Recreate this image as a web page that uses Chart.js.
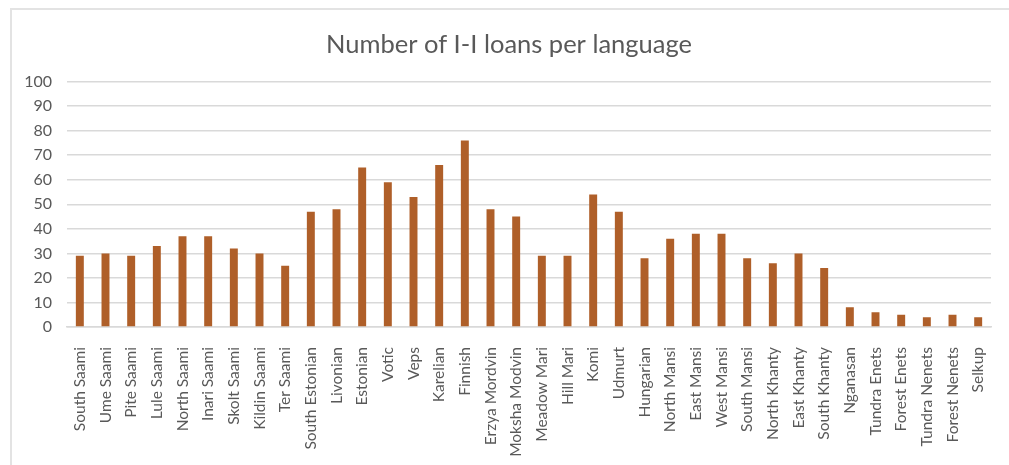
<!DOCTYPE html>
<html>
<head>
<meta charset="utf-8">
<script src="https://cdn.jsdelivr.net/npm/chart.js@4/dist/chart.umd.min.js"></script>
<style>
	html, body { margin: 0; padding: 0; background: #ffffff; }
	#frame {
		position: absolute; left: 10px; top: 8px; right: 0; bottom: 0;
		border-top: 2px solid #e3e3e3; border-left: 2px solid #e3e3e3;
	}
	#wrap { position: absolute; left: 0; top: 0; width: 1009px; height: 465px; }
</style>
</head>
<body>
<div id="frame"></div>
<div id="wrap"><canvas id="loanChart" width="1009" height="465"></canvas></div>
<script>
const	languages	= [
	"South Saami", "Ume Saami", "Pite Saami", "Lule Saami", "North Saami", "Inari Saami",
	"Skolt Saami", "Kildin Saami", "Ter Saami", "South Estonian", "Livonian", "Estonian",
	"Votic", "Veps", "Karelian", "Finnish", "Erzya Mordvin", "Moksha Modvin",
	"Meadow Mari", "Hill Mari", "Komi", "Udmurt", "Hungarian", "North Mansi",
	"East Mansi", "West Mansi", "South Mansi", "North Khanty", "East Khanty", "South Khanty",
	"Nganasan", "Tundra Enets", "Forest Enets", "Tundra Nenets", "Forest Nenets", "Selkup"
];
const	loans	= [
	29, 30, 29, 33, 37, 37,
	32, 30, 25, 47, 48, 65,
	59, 53, 66, 76, 48, 45,
	29, 29, 54, 47, 28, 36,
	38, 38, 28, 26, 30, 24,
	8, 6, 5, 4, 5, 4
];
const	yTicks	= [ 0, 10, 20, 30, 40, 50, 60, 70, 80, 90, 100 ];

const	TEXT_COLOR	= "#595959";
const	GRID_COLOR	= "#d9d9d9";
const	BAR_COLOR	= "#af5f29";

window.addEventListener( 'load', function () {
	let	ctx	= document.getElementById( "loanChart" );

	new Chart( ctx, {
		type: 'bar',
		data: {
			labels: languages,
			datasets: [
				{
					label: 'I-I loans',
					data: loans,
					backgroundColor: BAR_COLOR,
					borderWidth: 0,
					barPercentage: 0.31,
					categoryPercentage: 1.0,
				},
			],
		},
		options: {
			responsive: false,
			animation: false,
			layout: {
				padding: { left: 25, right: 16, top: 29, bottom: 8 },
			},
			plugins: {
				legend: { display: false },
				tooltip: { enabled: false },
				title: {
					display: true,
					text: 'Number of I-I loans per language',
					color: TEXT_COLOR,
					font: { family: 'Lato', size: 25.5, weight: 'normal' },
					padding: { top: 0, bottom: 22 },
				},
			},
			scales: {
				y: {
					min: 0,
					max: 100,
					afterBuildTicks: axis => {
						axis.ticks = yTicks.map( v => ({ value: v }) );
					},
					afterFit: axis => { axis.width = 42; },	//	label column + gap
					border: { display: false },
					grid: {
						color: GRID_COLOR,
						lineWidth: 1.5,
						drawTicks: false,
					},
					ticks: {
						color: TEXT_COLOR,
						font: { family: 'Lato', size: 16 },
						padding: 15,
					},
				},
				x: {
					afterFit: axis => { axis.height = 130; },	//	room for rotated names
					border: { color: GRID_COLOR, width: 1.5 },
					grid: { display: false },
					ticks: {
						color: TEXT_COLOR,
						font: { family: 'Lato', size: 15.5 },
						maxRotation: 90,
						minRotation: 90,
						autoSkip: false,
						padding: 12,
					},
				},
			},
		}
	});
});
</script>
</body>
</html>
